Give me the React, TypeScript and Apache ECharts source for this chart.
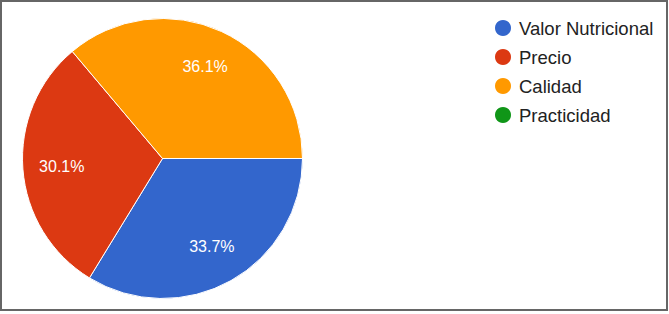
import React, { useEffect, useRef } from "react";
import * as echarts from "echarts";

const categories = ["Valor Nutricional", "Precio", "Calidad", "Practicidad"];
const counts = [28, 25, 30, 0];
const colors = ["#3366cc", "#dc3912", "#ff9900", "#109618"];

export default function App() {
  const ref = useRef<HTMLDivElement>(null);
  useEffect(() => {
    if (!ref.current) return;
    const chart = echarts.init(ref.current, undefined, { renderer: "svg" });
    const total = counts.reduce((a, b) => a + b, 0);
    const data = categories.map((name, i) => ({
      name,
      value: counts[i],
      itemStyle: { color: colors[i] },
    }));
    chart.setOption({
      animation: false,
      graphic: [
        {
          type: "rect",
          shape: { x: 1, y: 1, width: 666, height: 309 },
          style: { fill: "none", stroke: "#666666", lineWidth: 2 },
          silent: true,
        },
      ],
      legend: {
        orient: "vertical",
        left: 493,
        top: 18,
        padding: 0,
        icon: "circle",
        itemWidth: 18,
        itemHeight: 18,
        itemGap: 9,
        data: categories,
        textStyle: {
          fontFamily: "Liberation Sans, Arial, sans-serif",
          fontSize: 18.5,
          lineHeight: 18,
          color: "#222222",
          padding: [0, 0, 0, 2],
        },
      },
      series: [
        {
          type: "pie",
          center: [162.5, 158.5],
          radius: [0, 140],
          startAngle: 0,
          clockwise: true,
          data,
          label: { show: false },
          labelLine: { show: false },
          itemStyle: { borderColor: "#ffffff", borderWidth: 1 },
          emphasis: { disabled: true },
        },
        {
          type: "pie",
          center: [162.5, 158.5],
          radius: [56, 140],
          startAngle: 0,
          clockwise: true,
          silent: true,
          data: categories.map((name, i) => ({
            name,
            value: counts[i],
            itemStyle: { color: "rgba(0,0,0,0)" },
          })),
          legendHoverLink: false,
          label: {
            show: true,
            position: "inside",
            color: "#ffffff",
            fontFamily: "Liberation Sans, Arial, sans-serif",
            fontSize: 16,
            formatter: (p: any) =>
              p.value > 0 ? ((p.value / total) * 100).toFixed(1) + "%" : "",
          },
          labelLine: { show: false },
          emphasis: { disabled: true },
        },
      ],
    });
    return () => chart.dispose();
  }, []);
  return (
    <div
      ref={ref}
      style={{ position: "fixed", left: 0, top: 0, width: 669, height: 314, background: "#ffffff" }}
    />
  );
}
